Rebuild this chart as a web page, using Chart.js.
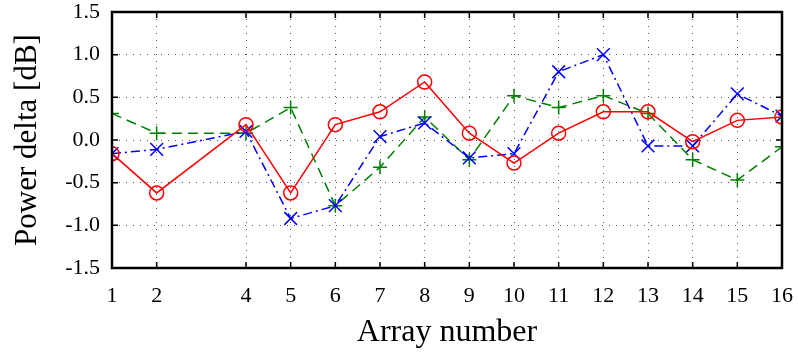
<!DOCTYPE html>
<html>
<head>
<meta charset="utf-8">
<script src="https://cdn.jsdelivr.net/npm/chart.js"></script>
<style>
  html, body { margin: 0; padding: 0; background: #fff; }
  #wrap { width: 798px; height: 352px; }
</style>
</head>
<body>
<div id="wrap"><canvas id="myChart"></canvas></div>
<script>
// array numbers (array 3 is missing)
const arrays = [1, 2, 4, 5, 6, 7, 8, 9, 10, 11, 12, 13, 14, 15, 16];
const redDelta   = [-0.16, -0.62, 0.18, -0.62, 0.18, 0.33, 0.68, 0.08, -0.27, 0.08, 0.33, 0.33, -0.02, 0.23, 0.27];
const blueDelta  = [-0.16, -0.11, 0.10, -0.92, -0.77, 0.04, 0.20, -0.21, -0.16, 0.80, 1.00, -0.07, -0.07, 0.54, 0.28];
const greenDelta = [0.31, 0.08, 0.08, 0.38, -0.77, -0.32, 0.27, -0.23, 0.52, 0.38, 0.52, 0.31, -0.23, -0.47, -0.08];
const yTicks = [-1.5, -1.0, -0.5, 0.0, 0.5, 1.0, 1.5];

const serif = 'Liberation Serif, Times New Roman, serif';

function toPoints(vals) {
    return arrays.map((x, i) => ({x: x, y: vals[i]}));
}

// box around the plot with inward tick marks on all four sides
const frame = {
    id: 'frame',
    afterDraw(chart) {
        const {ctx, chartArea: a, scales} = chart;
        const len = 6;
        ctx.save();
        ctx.strokeStyle = '#000';
        ctx.lineWidth = 1.5;
        ctx.beginPath();
        scales.x.ticks.forEach(t => {
            const px = scales.x.getPixelForValue(t.value);
            ctx.moveTo(px, a.bottom); ctx.lineTo(px, a.bottom - len);
            ctx.moveTo(px, a.top); ctx.lineTo(px, a.top + len);
        });
        scales.y.ticks.forEach(t => {
            const py = scales.y.getPixelForValue(t.value);
            ctx.moveTo(a.left, py); ctx.lineTo(a.left + len, py);
            ctx.moveTo(a.right, py); ctx.lineTo(a.right - len, py);
        });
        ctx.stroke();
        ctx.lineWidth = 2.5;
        ctx.strokeRect(a.left, a.top, a.right - a.left, a.bottom - a.top);
        ctx.restore();
    }
};

const ctx = document.getElementById('myChart').getContext('2d');
const chart = new Chart(ctx, {
    type: 'line',
    data: {
        datasets: [{
            label: 'red',
            data: toPoints(redDelta),
            borderColor: '#ff0000',
            borderWidth: 1.5,
            pointStyle: 'circle',
            pointRadius: 7,
            pointBorderWidth: 1.5,
            pointBorderColor: '#ff0000',
            pointBackgroundColor: 'rgba(0,0,0,0)',
            fill: false
        }, {
            label: 'blue',
            data: toPoints(blueDelta),
            borderColor: '#0000ff',
            borderWidth: 1.5,
            borderDash: [9, 4, 2, 4],
            pointStyle: 'crossRot',
            pointRadius: 9,
            pointBorderWidth: 1.5,
            pointBorderColor: '#0000ff',
            fill: false
        }, {
            label: 'green',
            data: toPoints(greenDelta),
            borderColor: '#008000',
            borderWidth: 1.5,
            borderDash: [10, 6],
            pointStyle: 'cross',
            pointRadius: 7,
            pointBorderWidth: 1.5,
            pointBorderColor: '#008000',
            fill: false
        }]
    },
    options: {
        responsive: true,
        maintainAspectRatio: false,
        animation: false,
        layout: {padding: {left: 0, right: 16, top: 12, bottom: 0}},
        plugins: {
            legend: {display: false},
            tooltip: {enabled: false}
        },
        scales: {
            x: {
                type: 'linear',
                min: 1,
                max: 16,
                afterBuildTicks: s => { s.ticks = arrays.map(v => ({value: v})); },
                afterFit: s => { s.height = 84; s.paddingLeft = 0; s.paddingRight = 0; },
                grid: {color: '#555', lineWidth: 1, drawTicks: false},
                border: {display: false, dash: [1, 6]},
                ticks: {
                    padding: 15,
                    color: '#000',
                    font: {family: serif, size: 22},
                    autoSkip: false,
                    maxRotation: 0
                },
                title: {
                    display: true,
                    text: 'Array number',
                    color: '#000',
                    font: {family: serif, size: 32},
                    padding: {top: 0, bottom: 0}
                }
            },
            y: {
                type: 'linear',
                min: -1.5,
                max: 1.5,
                afterBuildTicks: s => { s.ticks = yTicks.map(v => ({value: v})); },
                afterFit: s => { s.width = 112; s.paddingTop = 0; s.paddingBottom = 0; },
                grid: {color: '#555', lineWidth: 1, drawTicks: false},
                border: {display: false, dash: [1, 6]},
                ticks: {
                    padding: 12,
                    color: '#000',
                    font: {family: serif, size: 22},
                    callback: v => v.toFixed(1)
                },
                title: {
                    display: true,
                    text: 'Power delta [dB]',
                    color: '#000',
                    font: {family: serif, size: 31},
                    padding: {top: 9, bottom: 0}
                }
            }
        }
    },
    plugins: [frame]
});
</script>
</body>
</html>
